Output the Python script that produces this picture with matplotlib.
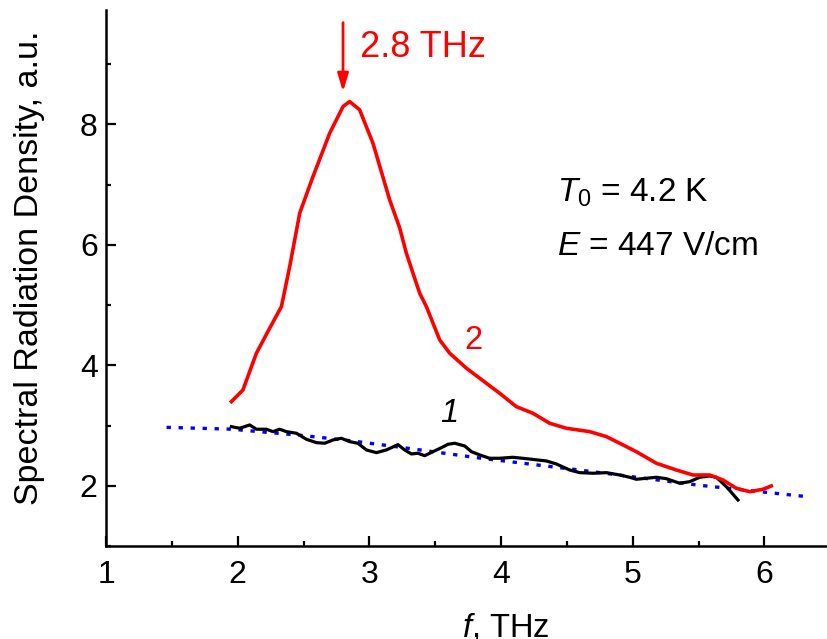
import matplotlib
matplotlib.use("Agg")
import matplotlib.pyplot as plt
from matplotlib.ticker import MultipleLocator

plt.rcParams['font.family'] = ['Liberation Sans', 'DejaVu Sans']
plt.rcParams['mathtext.fontset'] = 'custom'
plt.rcParams['mathtext.rm'] = 'Liberation Sans'
plt.rcParams['mathtext.it'] = 'Liberation Sans:italic'

# Curve 2 (red)
f2 = [1.952, 2.040, 2.142, 2.243, 2.332, 2.395, 2.471, 2.572, 2.699, 2.800, 2.850,
      2.926, 3.027, 3.154, 3.230, 3.281, 3.331, 3.382, 3.433, 3.534, 3.610, 3.737,
      3.888, 3.989, 4.116, 4.242, 4.369, 4.496, 4.673, 4.800, 4.901, 5.027, 5.179,
      5.331, 5.457, 5.584, 5.685, 5.787, 5.888, 5.989, 6.052]
s2 = [3.397, 3.591, 4.201, 4.616, 4.975, 5.640, 6.527, 7.135, 7.856, 8.297, 8.380,
      8.243, 7.689, 6.748, 6.282, 5.862, 5.530, 5.198, 4.975, 4.422, 4.201, 3.952,
      3.703, 3.537, 3.314, 3.204, 3.038, 2.955, 2.899, 2.816, 2.706, 2.566, 2.374,
      2.262, 2.179, 2.179, 2.096, 1.958, 1.902, 1.942, 1.997]

# Curve 1 (black)
f1 = [1.952, 2.015, 2.091, 2.142, 2.218, 2.268, 2.319, 2.370, 2.446, 2.522, 2.598,
      2.661, 2.724, 2.787, 2.850, 2.913, 2.977, 3.053, 3.129, 3.217, 3.268, 3.319,
      3.369, 3.420, 3.483, 3.547, 3.597, 3.648, 3.724, 3.775, 3.838, 3.913, 3.989,
      4.090, 4.192, 4.344, 4.420, 4.521, 4.597, 4.698, 4.800, 4.901, 4.977, 5.027,
      5.179, 5.255, 5.356, 5.432, 5.508, 5.584, 5.635, 5.711, 5.799]
s1 = [2.982, 2.955, 3.010, 2.939, 2.939, 2.899, 2.939, 2.899, 2.872, 2.772, 2.716,
      2.706, 2.761, 2.789, 2.733, 2.706, 2.595, 2.550, 2.595, 2.683, 2.595, 2.528,
      2.540, 2.500, 2.566, 2.633, 2.689, 2.706, 2.661, 2.566, 2.512, 2.457, 2.457,
      2.473, 2.450, 2.412, 2.362, 2.262, 2.218, 2.208, 2.218, 2.179, 2.141, 2.108,
      2.141, 2.118, 2.042, 2.068, 2.141, 2.163, 2.141, 1.985, 1.764]

# Fit / background (blue dotted)
fb = [1.46, 1.95, 2.47, 2.85, 3.20, 3.84, 4.60, 5.50, 5.89, 6.32]
sb = [2.97, 2.94, 2.84, 2.75, 2.65, 2.46, 2.26, 2.01, 1.92, 1.82]

x_ticks = [1, 2, 3, 4, 5, 6]
y_ticks = [2, 4, 6, 8]
peak_f = 2.8

fig = plt.figure(figsize=(8.27, 6.39), dpi=100)
ax = fig.add_axes([106/827, 93/639, 721/827, 536/639])

ax.plot(fb, sb, color='#0000ff', lw=2.4, linestyle=(0, (1.3, 2.3)), dash_capstyle='butt')
ax.plot(f1, s1, color='black', lw=2.3)
ax.plot(f2, s2, color='#ff0000', lw=2.6)

ax.set_xlim(1, 6.475)
ax.set_ylim(1, 9.90)

for s in ['top', 'right']:
    ax.spines[s].set_visible(False)
for s in ['left', 'bottom']:
    ax.spines[s].set_linewidth(1.8)

ax.set_xticks(x_ticks)
ax.set_yticks(y_ticks)
ax.xaxis.set_minor_locator(MultipleLocator(0.5))
ax.yaxis.set_minor_locator(MultipleLocator(1))
ax.tick_params(which='major', direction='in', length=7, width=1.6, labelsize=23)
ax.tick_params(which='minor', direction='in', length=3.5, width=1.6)
ax.tick_params(axis='x', which='major', pad=10)
ax.tick_params(axis='y', which='major', pad=6)

ax.set_xlabel(r'$\mathit{f}$, THz', fontsize=23.5)
ax.xaxis.set_label_coords(0.555, -0.122)
ax.set_ylabel('Spectral Radiation Density, a.u.', fontsize=24.5)
ax.yaxis.set_label_coords(-0.085, 0.52)

ax.annotate('', xy=(peak_f, 8.54), xytext=(peak_f, 9.69),
            arrowprops=dict(arrowstyle='-|>,head_length=0.6,head_width=0.18',
                            color='#ff0000', lw=2, mutation_scale=18,
                            shrinkA=0, shrinkB=0))
ax.text(2.926, 9.27, '2.8 THz', color='#ff0000', fontsize=26, va='center', ha='left')
ax.text(3.787, 4.42, '2', color='#ff0000', fontsize=23.5, va='center', ha='center')
ax.text(3.604, 3.20, '1', color='black', fontsize=23.5, va='center', ha='center', style='italic')
ax.text(4.422, 6.864, r'$\mathit{T}_{0}$ = 4.2 K', fontsize=24, va='center', ha='left')
ax.text(4.422, 5.967, r'$\mathit{E}$ = 447 V/cm', fontsize=24, va='center', ha='left')

fig.savefig('out.png', dpi=100)
